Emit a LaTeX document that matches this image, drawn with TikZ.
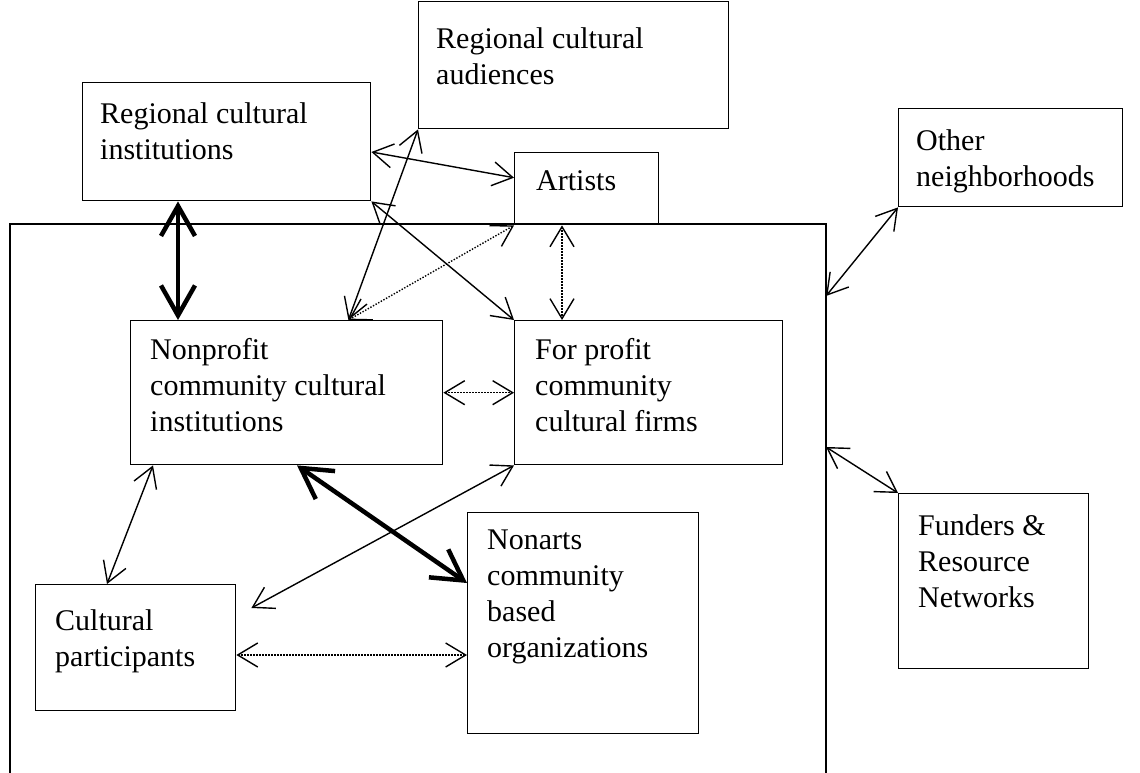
\documentclass[tikz,border=0pt]{standalone}
\usepackage{fontspec}
\setmainfont{Liberation Serif}
\usetikzlibrary{arrows.meta,calc}
\begin{document}
\begin{tikzpicture}[x=1pt,y=-1pt,
  box/.style={draw, line width=1.4pt, inner sep=0pt, anchor=north west},
  lbl/.style={anchor=north west, inner sep=0pt, align=left, font=\fontsize{30}{36}\selectfont},
  conn/.style={line width=1.4pt, {Straight Barb[length=20pt,width=24pt]}-{Straight Barb[length=20pt,width=24pt]}},
  dconn/.style={conn, dash pattern=on 1.4pt off 1.6pt},
  thickconn/.style={line width=4.5pt, {Straight Barb[length=30pt,width=34pt]}-{Straight Barb[length=30pt,width=34pt]}}
]
\useasboundingbox (0,0) rectangle (1140,773);
% outer frame
\draw[line width=1.6pt] (10,800) -- (10,224) -- (826,224) -- (826,800);
\coordinate (frtop) at (826,296);
\coordinate (frbot) at (826,447);
% boxes
\node[box, minimum width=288pt, minimum height=118pt] (rci) at (82,82) {};
\node[box, minimum width=310pt, minimum height=127pt] (rca) at (418,1) {};
\node[box, minimum width=144pt, minimum height=72pt] (art) at (514,152) {};
\node[box, minimum width=224pt, minimum height=98pt] (on) at (898,108) {};
\node[box, minimum width=190pt, minimum height=175pt] (fund) at (898,493) {};
\node[box, minimum width=312pt, minimum height=144pt] (ncci) at (130,320) {};
\node[box, minimum width=268pt, minimum height=144pt] (fp) at (514,320) {};
\node[box, minimum width=231pt, minimum height=221pt] (na) at (467,512) {};
\node[box, minimum width=200pt, minimum height=126pt] (cp) at (35,584) {};
% labels
\node[lbl] (rcit) at ([shift={(18pt,-20pt)}]rci.north west) {Regional cultural\\institutions};
\node[lbl] (rcat) at ([shift={(18pt,-26pt)}]rca.north west) {Regional cultural\\audiences};
\node[lbl] (artt) at ([shift={(22pt,-18pt)}]art.north west) {Artists};
\node[lbl] (ont) at ([shift={(18pt,-21pt)}]on.north west) {Other\\neighborhoods};
\node[lbl] (fundt) at ([shift={(20pt,-21pt)}]fund.north west) {Funders \&\\Resource\\Networks};
\node[lbl] (nccit) at ([shift={(20pt,-18pt)}]ncci.north west) {Nonprofit\\community cultural\\institutions};
\node[lbl] (fpt) at ([shift={(21pt,-18pt)}]fp.north west) {For profit\\community\\cultural firms};
\node[lbl] (nat) at ([shift={(20pt,-18pt)}]na.north west) {Nonarts\\community\\based\\organizations};
\node[lbl] (cpt) at ([shift={(20pt,-25pt)}]cp.north west) {Cultural\\participants};
% helper coordinates
\coordinate (ncciTop) at ([xshift=-95pt]ncci.north east);
\coordinate (rciB) at ([xshift=96pt]rci.south west);
\coordinate (ncciTL) at ([xshift=48pt]ncci.north west);
\coordinate (artB) at ([xshift=48pt]art.south west);
\coordinate (ncciB) at ([xshift=167pt]ncci.south west);
\coordinate (ncciBL) at ([xshift=23pt]ncci.south west);
\coordinate (cpT) at ([xshift=72pt]cp.north west);
\coordinate (cpR) at ([shift={(15pt,-24pt)}]cp.north east);
\coordinate (cpE) at ([yshift=-71pt]cp.north east);
\coordinate (naL) at ([yshift=-71pt]na.north west);
% connectors
\draw[conn] (rci.east |- art.north) -- ([yshift=11pt]art.west);
\draw[conn] (rca.south west) -- (ncciTop);
\draw[conn] (rci.south east) -- (fp.north west);
\draw[dconn] (art.south west) -- (ncciTop);
\draw[dconn] (artB) -- (artB |- fp.north);
\draw[thickconn] (rciB) -- (ncciTL);
\draw[dconn] (ncci.east) -- (fp.west);
\draw[thickconn] (ncciB) -- (naL);
\draw[conn] (fp.south west) -- (cpR);
\draw[conn] (ncciBL) -- (cpT);
\draw[dconn] (cpE) -- (na.west |- cpE);
\draw[conn] (on.south west) -- (frtop);
\draw[conn] (frbot) -- (fund.north west);
\end{tikzpicture}
\end{document}
